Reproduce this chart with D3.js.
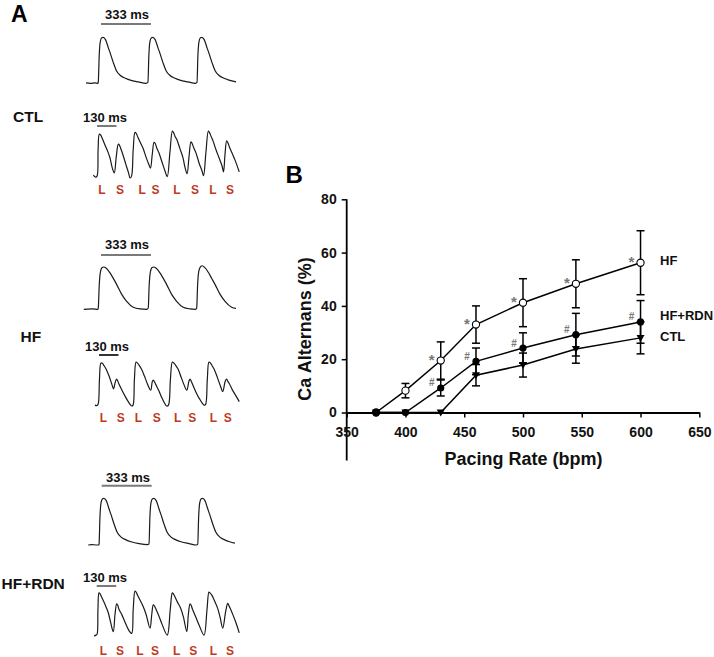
<!DOCTYPE html>
<html><head><meta charset="utf-8">
<script src="https://cdn.jsdelivr.net/npm/d3@7"></script>
<style>
html,body{margin:0;padding:0;background:#fff;}
text{font-family:"Liberation Sans",Arial,sans-serif;font-weight:bold;}
</style></head>
<body>
<svg id="fig" width="714" height="657"></svg>
<script>
// ---------- Panel A data: Ca transient traces (time in ms, amplitude normalised 0..1) ----------
const ctlLong = [[0,0.01],[30,0.0],[60,0.01],[80,0.0],[82,0.03],[88,0.6],[95,0.9],[105,0.99],[115,1.0],[130,0.95],[149,0.77],[162,0.65],[182,0.45],[202,0.28],[229,0.17],[262,0.11],[295,0.07],[349,0.03],[400,0.0],
 [413,0.02],[419,0.6],[426,0.9],[436,0.99],[446,1.0],[461,0.95],[480,0.77],[493,0.65],[513,0.45],[533,0.28],[560,0.17],[593,0.11],[626,0.07],[680,0.03],[730,0.0],
 [740,0.02],[746,0.6],[753,0.9],[763,0.99],[773,1.0],[788,0.95],[807,0.77],[820,0.65],[840,0.45],[860,0.28],[887,0.17],[920,0.11],[953,0.07],[1000,0.03]];
const ctlShort = [[2,0.06],[17,0.02],[27,0.04],[34,0.6],[42,0.93],[50,0.92],[62,0.84],[80,0.7],[100,0.55],[113,0.43],[129,0.21],[142,0.11],
 [155,0.45],[169,0.72],[176,0.7],[188,0.6],[200,0.49],[220,0.28],[237,0.11],[247,0.0],[257,0.04],
 [268,0.6],[280,0.97],[288,0.95],[300,0.86],[313,0.77],[333,0.64],[353,0.45],[373,0.28],[383,0.21],
 [395,0.5],[407,0.76],[414,0.74],[425,0.64],[440,0.53],[460,0.34],[480,0.15],[495,0.03],
 [513,0.55],[529,1.0],[536,0.97],[548,0.88],[560,0.81],[580,0.62],[600,0.43],[613,0.23],[627,0.09],
 [640,0.45],[653,0.77],[660,0.74],[672,0.64],[687,0.53],[707,0.32],[727,0.15],[737,0.05],
 [753,0.55],[769,1.0],[776,0.97],[788,0.88],[800,0.79],[820,0.6],[840,0.43],[860,0.26],[870,0.13],
 [880,0.5],[891,0.79],[899,0.75],[912,0.64],[927,0.53],[947,0.38],[975,0.13]];
const hfLong = [[-15,0.0],[40,0.01],[80,0.0],[82,0.03],[88,0.55],[96,0.88],[108,0.99],[118,1.0],[135,0.97],[160,0.86],[182,0.73],[204,0.59],[237,0.36],[271,0.19],[315,0.05],[360,0.01],[405,0.0],
 [415,0.03],[421,0.55],[429,0.88],[441,0.99],[451,1.0],[468,0.97],[493,0.86],[515,0.73],[537,0.59],[570,0.36],[604,0.19],[648,0.05],[693,0.01],[730,0.0],
 [738,0.03],[744,0.57],[752,0.9],[764,1.01],[774,1.03],[791,0.99],[816,0.87],[838,0.73],[860,0.59],[893,0.36],[927,0.19],[971,0.05],[1000,0.02]];
const hfShort = [[13,0.02],[27,0.01],[35,0.05],[43,0.6],[53,0.98],[62,0.97],[75,0.91],[87,0.84],[107,0.68],[127,0.48],[137,0.39],
 [150,0.56],[158,0.61],[165,0.57],[173,0.5],[193,0.36],[213,0.23],[233,0.11],[258,0.0],[267,0.02],
 [276,0.6],[287,1.0],[295,0.98],[307,0.93],[323,0.84],[343,0.68],[363,0.5],[385,0.36],
 [395,0.55],[402,0.59],[410,0.55],[420,0.48],[440,0.34],[460,0.18],[491,0.0],[503,0.02],
 [516,0.6],[529,1.0],[538,0.98],[550,0.93],[567,0.84],[587,0.66],[607,0.48],[625,0.36],
 [640,0.57],[647,0.61],[654,0.57],[663,0.5],[683,0.34],[707,0.18],[740,0.02],[750,0.03],
 [762,0.6],[773,1.0],[782,0.98],[795,0.91],[810,0.82],[830,0.64],[850,0.45],[865,0.33],
 [882,0.57],[891,0.61],[899,0.56],[910,0.5],[930,0.36],[953,0.23],[975,0.1]];
const rdnLong = [[15,0.0],[40,0.01],[70,0.0],[85,0.0],[87,0.02],[93,0.6],[100,0.9],[110,0.99],[120,1.0],[135,0.95],[154,0.77],[167,0.65],[187,0.45],[207,0.28],[234,0.17],[267,0.11],[300,0.07],[354,0.03],[410,0.01],
 [420,0.02],[426,0.6],[433,0.9],[443,0.99],[453,1.0],[468,0.95],[487,0.77],[500,0.65],[520,0.45],[540,0.28],[567,0.17],[600,0.11],[633,0.07],[687,0.03],[735,0.0],
 [745,0.02],[751,0.6],[758,0.9],[768,0.99],[778,1.0],[793,0.95],[812,0.77],[825,0.65],[845,0.45],[865,0.28],[892,0.17],[925,0.11],[958,0.07],[993,0.04]];
const rdnShort = [[7,0.0],[20,0.02],[27,0.04],[33,0.6],[40,0.98],[47,0.96],[58,0.88],[73,0.77],[87,0.66],[100,0.55],[117,0.32],[135,0.1],
 [147,0.5],[158,0.73],[165,0.7],[173,0.61],[193,0.48],[213,0.32],[237,0.14],[258,0.06],
 [268,0.6],[280,1.02],[287,1.0],[298,0.92],[313,0.82],[333,0.68],[353,0.5],[380,0.18],
 [392,0.5],[402,0.71],[410,0.68],[420,0.61],[440,0.45],[460,0.27],[495,0.02],
 [515,0.6],[529,0.98],[536,0.96],[548,0.88],[563,0.77],[583,0.64],[603,0.43],[625,0.1],
 [636,0.5],[647,0.73],[654,0.7],[663,0.61],[683,0.45],[707,0.25],[740,0.02],
 [760,0.6],[773,1.0],[780,0.98],[792,0.93],[810,0.8],[830,0.64],[847,0.43],[865,0.18],
 [884,0.55],[898,0.74],[905,0.7],[913,0.64],[933,0.48],[953,0.3],[975,0.07]];

const groupNames = ["CTL", "HF", "HF+RDN"];
const beatLetters = ["L","S","L","S","L","S","L","S"];
const ctlBeatTimes = [60,180,327,417,560,680,800,913];
const hfBeatTimes  = [69,185,302,425,565,662,802,898];
const rdnBeatTimes = [69,180,313,413,558,669,802,913];
const longBarMs = 333, shortBarMs = 130;
const longBarLabel = "333 ms", shortBarLabel = "130 ms";

// ---------- Panel B data ----------
const rates   = [375, 400, 430, 460, 500, 545, 600];
const hfMean  = [0, 8.2, 19.5, 33, 41.2, 48.3, 56.2];
const hfErr   = [0, 2.7, 7, 7, 9, 9, 12];
const rdnMean = [0, 0, 9.2, 19.2, 24.2, 29.2, 34];
const rdnErr  = [0, 0, 3, 5, 5.7, 8, 8];
const ctlMean = [0, 0, 0, 14, 17.8, 23.8, 28];
const ctlErr  = [0, 0, 0, 4, 4.5, 5.3, 6];
const hfSig   = ["", "", "*", "*", "*", "*", "*"];
const rdnSig  = ["", "", "#", "#", "#", "#", "#"];
const xTicks = [350, 400, 450, 500, 550, 600, 650];
const yTicks = [0, 20, 40, 60, 80];
const seriesNames = ["HF", "HF+RDN", "CTL"];

const svg = d3.select("#fig");

// ================= Panel A =================
svg.append("text").attr("x", 11).attr("y", 22).attr("font-size", 23).text("A");

const red = "#bf3a22", barGrey = "#7a7a7a";
const rows = [
  {name: groupNames[0], nameX: 13, nameY: 121.7,
   long: {data: ctlLong, x0: 86, base: 83.3, peak: 37.3, lblY: 19.3, lblX: 105, barY: 24, barX: 101},
   short:{data: ctlShort, x0: 93, base: 178, peak: 131, lblY: 121.7, lblX: 83, barY: 126, barX: 97},
   beats: ctlBeatTimes, lsY: 193.5},
  {name: groupNames[1], nameX: 20.5, nameY: 341.7,
   long: {data: hfLong, x0: 86, base: 309.3, peak: 267, lblY: 249.3, lblX: 105, barY: 255, barX: 101},
   short:{data: hfShort, x0: 93, base: 406, peak: 362, lblY: 350.7, lblX: 85, barY: 355, barX: 99},
   beats: hfBeatTimes, lsY: 422},
  {name: groupNames[2], nameX: 1.5, nameY: 588.5,
   long: {data: rdnLong, x0: 86, base: 545, peak: 498.3, lblY: 481.7, lblX: 106, barY: 485.7, barX: 101.7},
   short:{data: rdnShort, x0: 93, base: 636, peak: 592, lblY: 581.7, lblX: 83, barY: 586, barX: 96.7},
   beats: rdnBeatTimes, lsY: 655}
];

function drawTrace(spec, barMs, barLabel, barColor, curve) {
  const tx = d3.scaleLinear().domain([0, 1000]).range([spec.x0, spec.x0 + 150]);
  const ty = d3.scaleLinear().domain([0, 1]).range([spec.base, spec.peak]);
  const line = d3.line().x(d => tx(d[0])).y(d => ty(d[1])).curve(curve);
  svg.append("path").datum(spec.data).attr("d", line)
     .attr("fill", "none").attr("stroke", "#1a1a1a").attr("stroke-width", 1.2);
  const bx = d3.scaleLinear().domain([0, 1000]).range([spec.barX, spec.barX + 150]);
  svg.append("line").attr("x1", bx(0)).attr("x2", bx(barMs))
     .attr("y1", spec.barY).attr("y2", spec.barY)
     .attr("stroke", barColor).attr("stroke-width", 2);
  svg.append("text").attr("x", spec.lblX).attr("y", spec.lblY)
     .attr("font-size", 13).attr("fill", "#111").text(barLabel);
  return tx;
}

rows.forEach((r, i) => {
  svg.append("text").attr("x", r.nameX).attr("y", r.nameY).attr("font-size", 15.5).attr("fill", "#111").text(r.name);
  drawTrace(r.long, longBarMs, longBarLabel, barGrey, d3.curveMonotoneX);
  const tx = drawTrace(r.short, shortBarMs, shortBarLabel, i === 1 ? "#333" : barGrey, d3.curveCatmullRom.alpha(0.5));
  svg.append("g").selectAll("text").data(r.beats).join("text")
     .attr("x", d => tx(d)).attr("y", r.lsY)
     .attr("text-anchor", "middle").attr("font-size", 12).attr("fill", red)
     .text((d, k) => beatLetters[k]);
});

// ================= Panel B =================
svg.append("text").attr("x", 285.5).attr("y", 182.7).attr("font-size", 24).text("B");

const x = d3.scaleLinear().domain([350, 650]).range([346.7, 699.3]);
const y = d3.scaleLinear().domain([0, 80]).range([412.5, 199.3]);

// y axis
const yAxis = svg.append("g").attr("transform", `translate(${x(350)},0)`)
  .call(d3.axisLeft(y).tickValues(yTicks).tickSize(5).tickSizeOuter(0).tickPadding(5));
yAxis.select(".domain").remove();
yAxis.selectAll(".tick line").attr("stroke", "#000").attr("stroke-width", 1.5);
yAxis.selectAll(".tick text").attr("font-size", 14).attr("font-family", "Liberation Sans, Arial, sans-serif")
  .attr("font-weight", "bold").attr("fill", "#111");
svg.append("line").attr("x1", x(350)).attr("x2", x(350)).attr("y1", y(80)).attr("y2", y(-18))
  .attr("stroke", "#000").attr("stroke-width", 1.8);

// x axis
const xAxis = svg.append("g").attr("transform", `translate(0,${y(0)})`)
  .call(d3.axisBottom(x).tickValues(xTicks).tickSize(5).tickSizeOuter(0).tickPadding(9.3));
xAxis.select(".domain").attr("stroke", "#000").attr("stroke-width", 1.8);
xAxis.selectAll(".tick line").attr("stroke", "#000").attr("stroke-width", 1.5);
xAxis.selectAll(".tick text").attr("font-size", 14).attr("font-family", "Liberation Sans, Arial, sans-serif")
  .attr("font-weight", "bold").attr("fill", "#111");

// axis titles
svg.append("text").attr("x", 523.5).attr("y", 465).attr("text-anchor", "middle")
  .attr("font-size", 18).attr("fill", "#111").text("Pacing Rate (bpm)");
svg.append("text").attr("transform", "translate(311,329) rotate(-90)").attr("text-anchor", "middle")
  .attr("font-size", 18).attr("fill", "#111").text("Ca Alternans (%)");

const series = [
  {mean: hfMean,  err: hfErr,  marker: "open", label: seriesNames[0], ly: 264.5},
  {mean: rdnMean, err: rdnErr, marker: "fill", label: seriesNames[1], ly: 320},
  {mean: ctlMean, err: ctlErr, marker: "tri", label: seriesNames[2], ly: 341}
];
const pts = s => rates.map((r, i) => ({r, v: s.mean[i], e: s.err[i]}));
const lineGen = d3.line().x(d => x(d.r)).y(d => y(d.v));

// lines
series.forEach(s => {
  svg.append("path").datum(pts(s)).attr("d", lineGen)
    .attr("fill", "none").attr("stroke", "#000").attr("stroke-width", 1.5);
});
// error bars
series.forEach(s => {
  const g = svg.append("g").attr("stroke", "#000").attr("stroke-width", 1.5);
  pts(s).filter(d => d.e > 0).forEach(d => {
    const cx = x(d.r);
    g.append("line").attr("x1", cx).attr("x2", cx).attr("y1", y(d.v + d.e)).attr("y2", y(d.v - d.e));
    [d.v + d.e, d.v - d.e].forEach(v => g.append("line")
      .attr("x1", cx - 4).attr("x2", cx + 4).attr("y1", y(v)).attr("y2", y(v)));
  });
});
// markers (HF first so the overlapping zero points appear dark)
series.forEach(s => {
  const g = svg.append("g");
  pts(s).forEach(d => {
    const cx = x(d.r), cy = y(d.v);
    if (s.marker === "tri") {
      g.append("path").attr("d", `M${cx-4},${cy-3} L${cx+4},${cy-3} L${cx},${cy+4} Z`).attr("fill", "#000");
    } else if (s.marker === "fill") {
      g.append("circle").attr("cx", cx).attr("cy", cy).attr("r", 3.6).attr("fill", "#000");
    } else {
      g.append("circle").attr("cx", cx).attr("cy", cy).attr("r", 3.6).attr("fill", "#fff")
        .attr("stroke", "#000").attr("stroke-width", 1.1);
    }
  });
  svg.append("text").attr("x", 660).attr("y", s.ly).attr("font-size", 13).attr("fill", "#111").text(s.label);
});
// significance marks
rates.forEach((r, i) => {
  if (hfSig[i]) svg.append("text").attr("x", x(r) - 9).attr("y", y(hfMean[i]) + 4)
    .attr("text-anchor", "middle").attr("font-size", 15).attr("font-weight", "normal").attr("fill", "#777").text(hfSig[i]);
  if (rdnSig[i]) svg.append("text").attr("x", x(r) - 9).attr("y", y(rdnMean[i]) - 1.5)
    .attr("text-anchor", "middle").attr("font-size", 10).attr("font-weight", "normal").attr("fill", "#777").text(rdnSig[i]);
});
</script>
</body></html>
